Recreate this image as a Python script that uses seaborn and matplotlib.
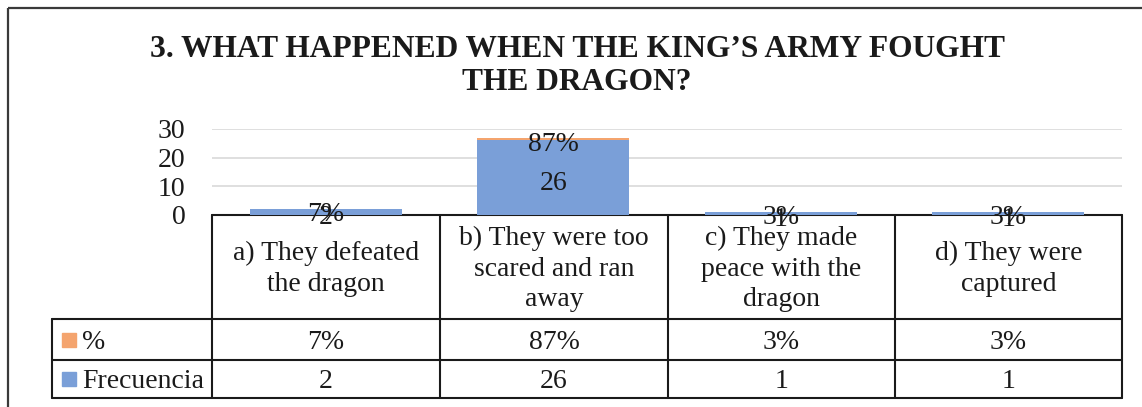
import numpy as np
import pandas as pd
import matplotlib.pyplot as plt
import seaborn as sns
from matplotlib.patches import Rectangle

sns.set_style("white")
plt.rcParams['font.family'] = ['Liberation Serif', 'DejaVu Serif']


#----------------------------------------------------------------------
categories = ["a) They defeated\nthe dragon",
              "b) They were too\nscared and ran\naway",
              "c) They made\npeace with the\ndragon",
              "d) They were\ncaptured"]
frecuencia = [2, 26, 1, 1]
porcentaje = [0.07, 0.87, 0.03, 0.03]
pct_labels = ["7%", "87%", "3%", "3%"]
series_names = ["%", "Frecuencia"]
y_ticks = [0, 10, 20, 30]
title = "3. WHAT HAPPENED WHEN THE KING\u2019S ARMY FOUGHT\nTHE DRAGON?"

blue = "#7A9FD8"
orange = "#F4A46E"

df = pd.DataFrame({"cat": categories, "Frecuencia": frecuencia, "pct": porcentaje})
df["total"] = df["Frecuencia"] + df["pct"]


#----------------------------------------------------------------------
W, H = 1142, 407
fig = plt.figure(figsize=(W / 100, H / 100), dpi=100)
FS = 20
TXT = "#1a1a1a"


def fx(px):
    return px / W


def fy(py):
    return 1 - py / H


# full-figure overlay in pixel coords for frame + data table
tab = fig.add_axes([0, 0, 1, 1])
tab.set_xlim(0, W)
tab.set_ylim(H, 0)
tab.axis("off")

x0, x1, ytop, ybot = 212, 1122, 129, 215
ax = fig.add_axes([fx(x0), fy(ybot), (x1 - x0) / W, (ybot - ytop) / H])
ax.set_facecolor("none")

sns.barplot(data=df, x="cat", y="total", color=orange, width=0.67, linewidth=0,
            saturation=1, errorbar=None, ax=ax, zorder=2)
sns.barplot(data=df, x="cat", y="Frecuencia", color=blue, width=0.67, linewidth=0,
            saturation=1, errorbar=None, ax=ax, zorder=3)

# data labels, nudged a few px down like Excel does
for i, (f, p, lab) in enumerate(zip(frecuencia, porcentaje, pct_labels)):
    ax.annotate(str(f), (i, f / 2), xytext=(0, -2), textcoords="offset points",
                ha="center", va="center_baseline", fontsize=FS, color=TXT, zorder=5)
    ax.annotate(lab, (i, f + p / 2), xytext=(0, -2), textcoords="offset points",
                ha="center", va="center_baseline", fontsize=FS, color=TXT, zorder=5)

ax.set_xlim(-0.5, len(categories) - 0.5)
ax.set_ylim(0, 30)
ax.set_yticks(y_ticks)
ax.set_yticklabels([str(t) for t in y_ticks], fontsize=FS)
ax.set_xticks([])
ax.set_xlabel("")
ax.set_ylabel("")
ax.tick_params(axis="y", length=0, pad=19, colors=TXT)
for t in y_ticks[1:]:
    ax.axhline(t, color="#D9D9D9", lw=1.2, zorder=0)
for s in ax.spines.values():
    s.set_visible(False)

# title
fig.text(fx(577), fy(66), title, ha="center", va="center", fontsize=22.7,
         fontweight="bold", linespacing=1.17, color=TXT)

# outer frame
tab.add_patch(Rectangle((8, 8), 1200, 500, fill=False, ec="#3a3a3a", lw=1.6))

# data table
col_edges = [212, 440, 668, 895, 1122]
row_top, row_cat, row_pct, row_freq = 215, 319, 360, 398
lc = "#1a1a1a"
tab.plot([212, 1122], [row_top, row_top], color=lc, lw=1.5)
for y in [row_cat, row_pct, row_freq]:
    tab.plot([52, 1122], [y, y], color=lc, lw=1.5)
for x in col_edges:
    tab.plot([x, x], [row_top, row_freq], color=lc, lw=1.5)
tab.plot([52, 52], [row_cat, row_freq], color=lc, lw=1.5)

centers = [(a + b) / 2 for a, b in zip(col_edges[:-1], col_edges[1:])]
for cx, cat, lab, f in zip(centers, categories, pct_labels, frecuencia):
    tab.text(cx, (row_top + row_cat) / 2 + 2, cat, ha="center", va="center",
             fontsize=FS, linespacing=1.3, color=TXT)
    tab.text(cx, (row_cat + row_pct) / 2, lab, ha="center", va="center_baseline", fontsize=FS, color=TXT)
    tab.text(cx, (row_pct + row_freq) / 2, str(f), ha="center", va="center_baseline", fontsize=FS, color=TXT)

for name, col, (ya, yb) in zip(series_names, [orange, blue],
                               [(row_cat, row_pct), (row_pct, row_freq)]):
    ym = (ya + yb) / 2
    tab.add_patch(Rectangle((62, ym - 7), 14, 14, color=col))
    tab.text(82, ym, name, ha="left", va="center_baseline", fontsize=FS, color=TXT)

fig.savefig("out.png", dpi=100)
